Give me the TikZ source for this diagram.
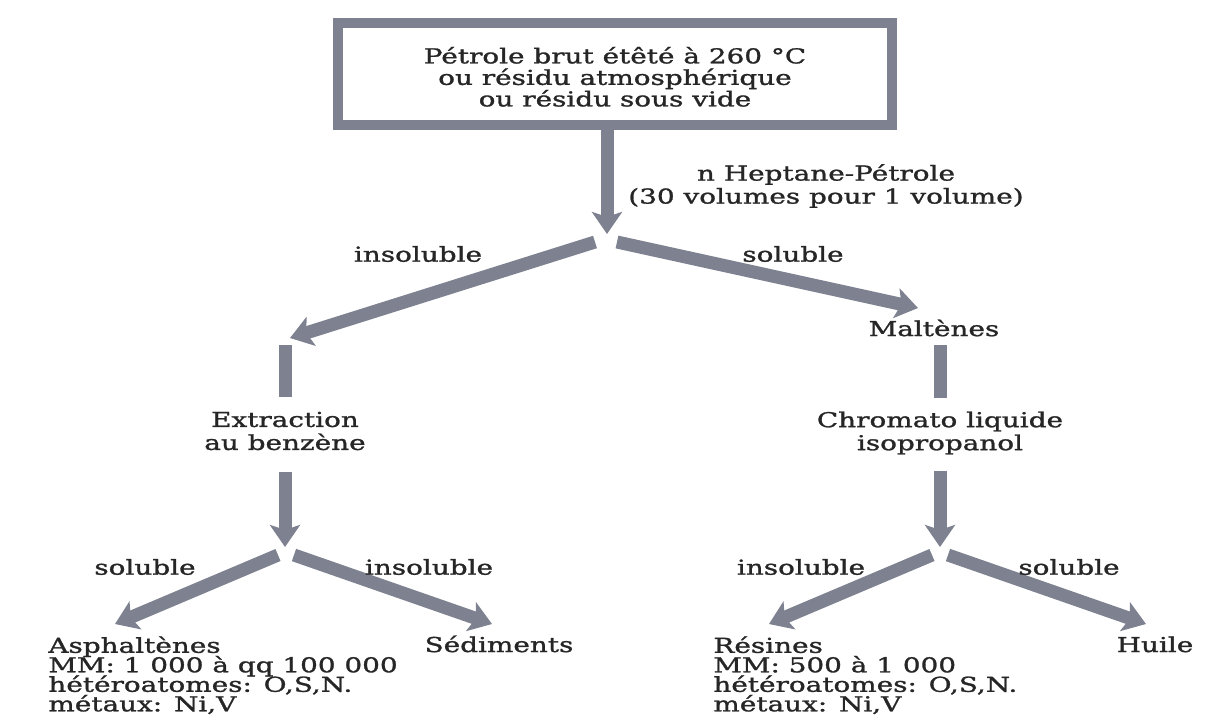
\documentclass[tikz,border=0pt]{standalone}
\usepackage{fontspec}
\setmainfont{DejaVu Serif}[FakeStretch=1.36,FakeBold=1.3]
\usetikzlibrary{arrows.meta}
\definecolor{flowgray}{HTML}{7D8190}
\definecolor{inkgray}{HTML}{262626}
\newcommand{\tightfont}{\fontsize{10.25}{9.75}\selectfont\lineskiplimit=-10pt\relax}

\begin{document}
\begin{tikzpicture}[x=0.5pt,y=-0.5pt,
  flow/.style={draw=flowgray,line width=6.5pt,-{Stealth[length=11pt,width=15pt,inset=2.5pt]}},
  bar/.style={draw=flowgray,line width=6.5pt},
  txt/.style={text=inkgray,inner sep=0pt,align=center,font=\fontsize{10.25}{11.5}\selectfont},
  srcbox/.style={txt,draw=flowgray,line width=5pt,minimum width=277pt,minimum height=51pt,
    font=\fontsize{10.25}{10.75}\selectfont},
  prop/.style={txt,align=left,anchor=north west,font=\tightfont}]
  \useasboundingbox (0,0) rectangle (1206,719);
  \fill[white] (0,0) rectangle (1206,719);

  % crude and solvent
  \node[srcbox] (source) at (615,74) {\rule{0pt}{11pt}Pétrole brut étêté à 260 °C\\ou résidu atmosphérique\\ou résidu sous vide};
  \node[txt] (solvent) at (826,186) {n Heptane-Pétrole\\(30 volumes pour 1 volume)};

  \coordinate (tip0) at (607,234);
  \coordinate (forkL) at (595,242);
  \coordinate (forkR) at (617,242);
  \coordinate (tipA) at (290,338);
  \coordinate (tipM) at (918,308);
  \draw[flow] (source.south -| tip0) -- (tip0);
  \draw[flow] (forkL) -- (tipA);
  \draw[flow] (forkR) -- (tipM);
  \node[txt] (insolA) at (418,254) {insoluble};
  \node[txt] (solM) at (793,254) {soluble};

  % left: asphaltenes
  \node[txt] (extract) at (285,431) {Extraction\\au benzène};
  \draw[bar,shorten <=3.5pt,shorten >=7pt] (extract.north |- tipA) -- (extract.north);
  \coordinate (tipB) at (285,547);
  \draw[flow,shorten <=10.5pt] (extract.south) -- (tipB);

  \coordinate (forkBL) at (278,555);
  \coordinate (forkBR) at (294,555);
  \coordinate (tipAs) at (115,624);
  \coordinate (tipSe) at (492,624);
  \draw[flow] (forkBL) -- (tipAs);
  \draw[flow] (forkBR) -- (tipSe);
  \node[txt] (solAs) at (145,567) {soluble};
  \node[txt] (insolSe) at (429,567) {insoluble};
  \node[prop] (asph) at (48,636) {Asphaltènes\\MM: 1 000 à qq 100 000\\hétéroatomes: O,S,N.\\métaux: Ni,V};
  \node[txt,anchor=base] (sedim) at (499,652) {Sédiments};

  % right: maltenes
  \node[txt] (malt) at (934,328) {Maltènes};
  \node[txt] (chroma) at (940,433) {Chromato liquide\\isopropanol};
  \draw[bar,shorten <=4.25pt,shorten >=6.7pt] (malt.south -| chroma.north) -- (chroma.north);
  \coordinate (tipC) at (940,547);
  \draw[flow,shorten <=8pt] (chroma.south) -- (tipC);

  \coordinate (forkCL) at (932,555);
  \coordinate (forkCR) at (948,555);
  \coordinate (tipRe) at (769,624);
  \coordinate (tipHu) at (1146,624);
  \draw[flow] (forkCL) -- (tipRe);
  \draw[flow] (forkCR) -- (tipHu);
  \node[txt] (insolRe) at (801,567) {insoluble};
  \node[txt] (solHu) at (1069,567) {soluble};
  \node[prop] (resin) at (713,636) {Résines\\MM: 500 à 1 000\\hétéroatomes: O,S,N.\\métaux: Ni,V};
  \node[txt,anchor=base] (huile) at (1155,652) {Huile};
\end{tikzpicture}
\end{document}
